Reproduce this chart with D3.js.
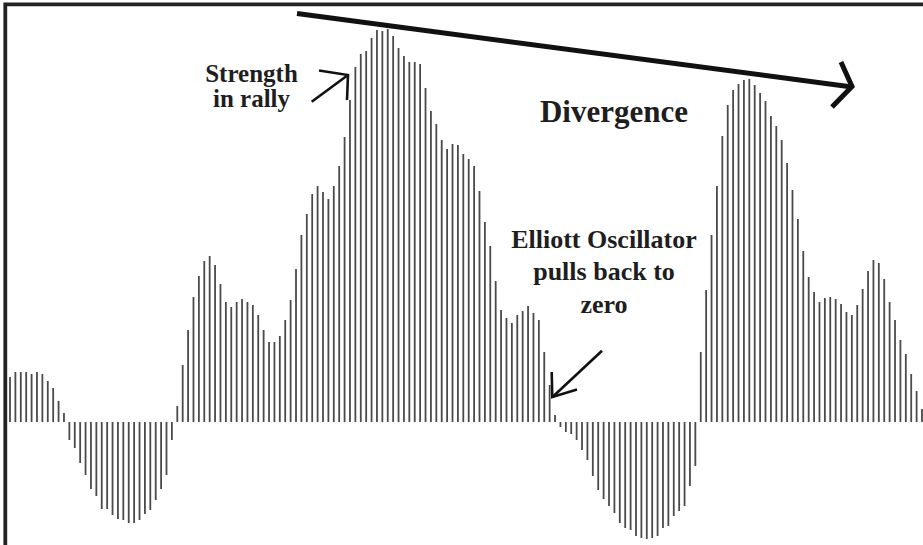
<!DOCTYPE html>
<html>
<head>
<meta charset="utf-8">
<script src="https://cdn.jsdelivr.net/npm/d3@7"></script>
<style>
  html, body { margin: 0; padding: 0; background: #fff; }
  svg { display: block; }
  text { font-family: "Liberation Serif", "Times New Roman", serif; font-weight: bold; fill: #1e1e1e; }
</style>
</head>
<body>
<svg id="chart" width="923" height="545"></svg>
<script>
// Elliott Oscillator values (one bar per period)
const oscillatorValues = [
  45, 50, 50, 50, 48, 50, 48, 41, 34, 21,
  9, -18, -26, -41, -53, -67, -74, -87, -87, -93,
  -97, -98, -101, -101, -98, -92, -88, -78, -67, -53,
  -18, 16, 57, 92, 125, 146, 161, 166, 157, 138,
  120, 115, 120, 123, 120, 117, 107, 92, 80, 80,
  86, 102, 122, 153, 187, 208, 228, 236, 230, 223,
  236, 256, 285, 322, 355, 368, 371, 384, 392, 391,
  393, 386, 374, 366, 360, 360, 358, 334, 311, 298,
  282, 273, 278, 277, 268, 263, 256, 231, 200, 176,
  141, 112, 104, 99, 107, 111, 116, 109, 102, 70,
  37, 7, -5, -10, -12, -18, -28, -38, -54, -68,
  -77, -84, -91, -101, -106, -108, -114, -116, -117, -116,
  -114, -106, -104, -94, -89, -84, -64, -44, 70, 132,
  187, 236, 286, 317, 332, 338, 342, 343, 337, 329,
  321, 306, 296, 282, 259, 232, 203, 171, 145, 130,
  120, 124, 125, 123, 118, 110, 107, 117, 133, 151,
  162, 159, 143, 120, 102, 82, 68, 48, 31, 13
];
const periods = oscillatorValues.map((v, i) => i);

const labelStrength = ["Strength", "in rally"];
const labelDivergence = ["Divergence"];
const labelPullback = ["Elliott Oscillator", "pulls back to", "zero"];

const svg = d3.select("#chart");

const x = d3.scaleLinear().domain([0, periods.length - 1]).range([10, 922]);
const y = d3.scaleLinear().domain([-120, 400]).range([542, 22]);

// frame (top and left edges)
svg.append("path")
  .attr("d", "M5.3,545 L5.3,4.3 L923,4.3")
  .attr("fill", "none")
  .attr("stroke", "#222")
  .attr("stroke-width", 3.8);

// oscillator bars
svg.append("g")
  .selectAll("line")
  .data(oscillatorValues)
  .join("line")
  .attr("x1", (d, i) => x(periods[i]))
  .attr("x2", (d, i) => x(periods[i]))
  .attr("y1", y(0))
  .attr("y2", d => y(d))
  .attr("stroke", "#4a4a4a")
  .attr("stroke-width", 1.8);

// divergence trend line with arrowhead
const ann = svg.append("g").attr("fill", "none").attr("stroke", "#111")
  .attr("stroke-linecap", "butt").attr("stroke-linejoin", "miter");
ann.append("path").attr("d", "M297,13.5 L852,87").attr("stroke-width", 5);
ann.append("path").attr("d", "M841,62 L852,86.5 L832,107").attr("stroke-width", 5);

// strength arrow
ann.append("path").attr("d", "M311.7,101.7 L348,75").attr("stroke-width", 2.6);
ann.append("path").attr("d", "M319,70.5 L348,75 L347,100").attr("stroke-width", 2.6);

// pullback arrow
ann.append("path").attr("d", "M602,350.7 L552.5,397").attr("stroke-width", 2.6);
ann.append("path").attr("d", "M551.7,372 L552.3,397 L577,389.5").attr("stroke-width", 2.6);

// text labels
svg.append("text").attr("text-anchor", "middle").attr("font-size", 25)
  .selectAll("tspan").data(labelStrength).join("tspan")
  .attr("x", 251.5).attr("y", (d, i) => 81.7 + i * 25).text(d => d);

svg.append("text").attr("text-anchor", "middle").attr("font-size", 31)
  .attr("x", 614).attr("y", 121.5).text(labelDivergence[0]);

svg.append("text").attr("text-anchor", "middle").attr("font-size", 26)
  .selectAll("tspan").data(labelPullback).join("tspan")
  .attr("x", 604).attr("y", (d, i) => 247.5 + i * 32.5).text(d => d);
</script>
</body>
</html>
